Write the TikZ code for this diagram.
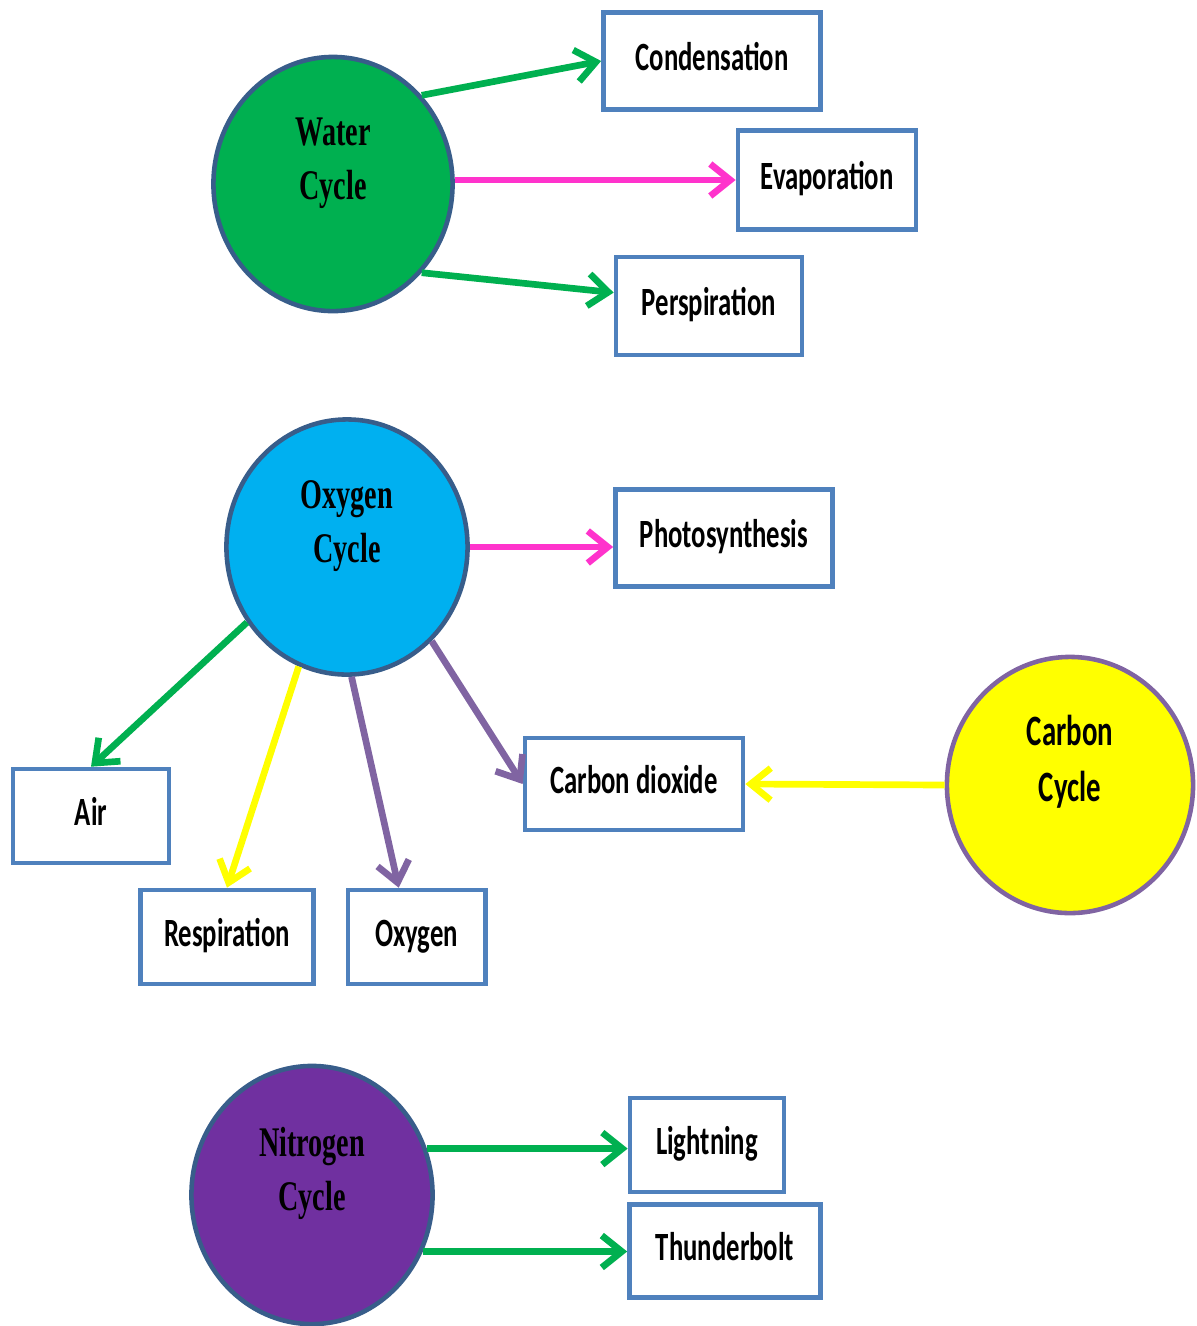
\documentclass[tikz,border=0pt]{standalone}
\usepackage{fontspec}
\setmainfont{Liberation Serif}
\setsansfont{Carlito}
\usepackage{graphicx}
\usepackage{xcolor}
\usetikzlibrary{arrows.meta,positioning,shapes.geometric}

\definecolor{arrowgreen}{HTML}{00B050}
\definecolor{arrowpink}{HTML}{FF33CC}
\definecolor{arrowyellow}{HTML}{FFFF00}
\definecolor{arrowpurple}{HTML}{8064A2}
\definecolor{boxblue}{HTML}{4F81BD}
\definecolor{rimblue}{HTML}{385D8A}
\definecolor{waterfill}{HTML}{00B050}
\definecolor{oxyfill}{HTML}{00B0F0}
\definecolor{carbonfill}{HTML}{FFFF00}
\definecolor{nitrofill}{HTML}{7030A0}

\newcommand{\tall}[1]{\scalebox{1}[1.5]{#1}}
\newcommand{\cyclelabel}[1]{\raisebox{0.12cm}[0pt][0pt]{\tall{\begin{tabular}{@{}c@{}}#1\end{tabular}}}}

\begin{document}
\begin{tikzpicture}[x=0.01cm,y=-0.01cm,
	cyclenode/.style={ellipse,draw=rimblue,line width=1.3pt,inner sep=0pt,
		font=\rmfamily\bfseries\fontsize{8}{10.4}\selectfont},
	termbox/.style={draw=boxblue,line width=1.3pt,fill=white,inner sep=0pt,
		text height=8.5pt,text depth=2.9pt,
		font=\sffamily\bfseries\fontsize{7.6}{9}\selectfont},
	link/.style={line width=1.9pt,-{Straight Barb[length=2mm,width=3.2mm]}}]
	
	\useasboundingbox (0,0) rectangle (1197,1326);
	
	\node[cyclenode,fill=waterfill,minimum width=2.39cm,minimum height=2.54cm] (W)
	at (333,184)
	{\cyclelabel{Water\\Cycle}};
	
	\node[cyclenode,fill=oxyfill,minimum width=2.41cm,minimum height=2.55cm] (O)
	at (347,547)
	{\cyclelabel{Oxygen\\Cycle}};
	
	\node[cyclenode,fill=carbonfill,draw=arrowpurple,minimum width=2.46cm,minimum height=2.56cm,
		font=\sffamily\bfseries\fontsize{8.2}{10.6}\selectfont] (C)
	at (1070,785)
	{\cyclelabel{Carbon\\Cycle}};
	
	\node[cyclenode,fill=nitrofill,minimum width=2.41cm,minimum height=2.58cm] (N)
	at (312,1195)
	{\cyclelabel{Nitrogen\\Cycle}};
	
	\node[termbox,minimum width=2.17cm,minimum height=0.97cm] (cond)
	at (712,61)
	{\tall{Condensation}};
	
	\node[termbox,minimum width=1.78cm,minimum height=0.99cm] (evap)
	at (827,180)
	{\tall{Evaporation}};
	
	\node[termbox,minimum width=1.86cm,minimum height=0.98cm] (persp)
	at (709,306)
	{\tall{Perspiration}};
	
	\node[termbox,minimum width=2.17cm,minimum height=0.97cm] (photo)
	at (724,538)
	{\tall{Photosynthesis}};
	
	\node[termbox,minimum width=2.18cm,minimum height=0.92cm] (codx)
	at (634,784)
	{\tall{Carbon dioxide}};
	
	\node[termbox,minimum width=1.56cm,minimum height=0.94cm] (air)
	at (91,816)
	{\tall{Air}};
	
	\node[termbox,minimum width=1.73cm,minimum height=0.94cm] (resp)
	at (227,937)
	{\tall{Respiration}};
	
	\node[termbox,minimum width=1.37cm,minimum height=0.94cm] (oxbox)
	[right=0.3cm of resp]
	{\tall{Oxygen}};
	
	\node[termbox,minimum width=1.54cm,minimum height=0.94cm] (light)
	at (707,1145)
	{\tall{Lightning}};
	
	\node[termbox,minimum width=1.91cm,minimum height=0.93cm] (thund)
	at (725,1251)
	{\tall{Thunderbolt}};
	
	\draw[link,arrowgreen] (W.45)--(cond.west);
	\draw[link,arrowpink] (evap.west -| W.east)--(evap.west);
	\draw[link,arrowgreen] (W.-45)--(persp.172);
	\draw[link,arrowpink] (O.east)--(O.east -| photo.west);
	\draw[link,arrowgreen] (O.217)--(air.north);
	\draw[link,arrowyellow] (O.248)--(resp.north);
	\draw[link,arrowpurple] (O.272)--(oxbox.110);
	\draw[link,arrowpurple] (O.312)--(codx.west);
	\draw[link,arrowyellow] (C.west)--(codx.east);
	\draw[link,arrowgreen] (N.22)--(N.22 -| light.west);
	\draw[link,arrowgreen] (N.-27)--(N.-27 -| thund.west);
	
\end{tikzpicture}
\end{document}
